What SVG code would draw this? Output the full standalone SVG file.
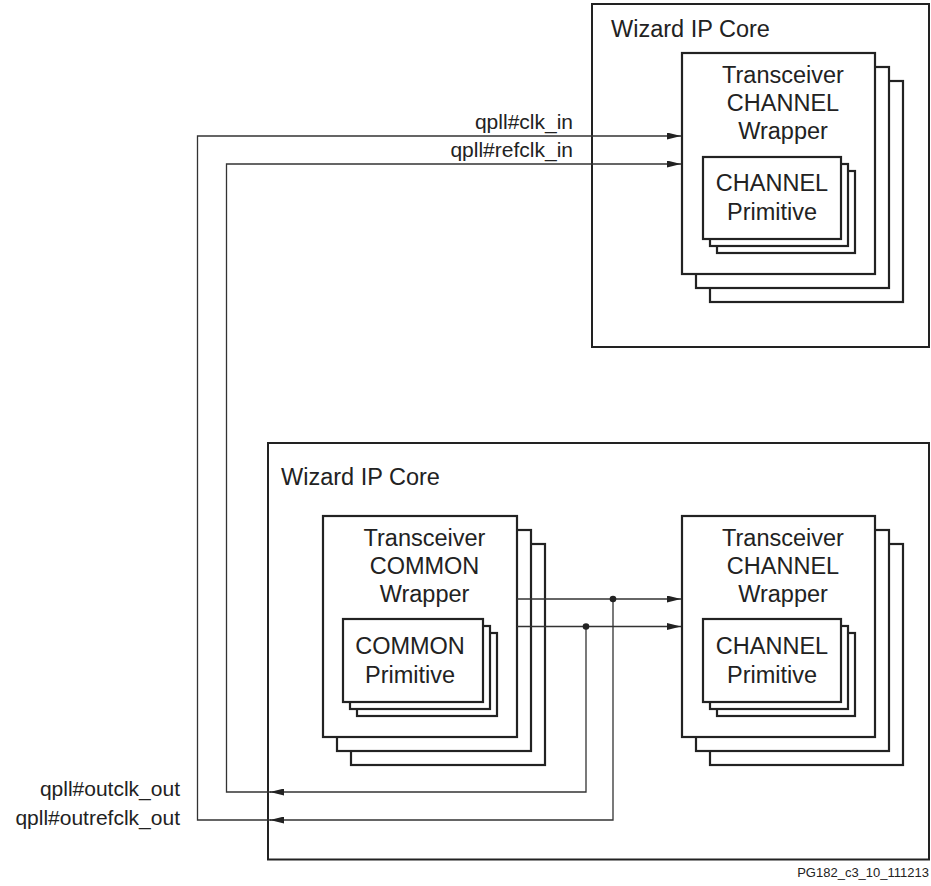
<svg xmlns="http://www.w3.org/2000/svg" width="931" height="886" viewBox="0 0 931 886">
<style>
.core{fill:#fff;stroke:#222;stroke-width:2}
.box{fill:#fff;stroke:#222;stroke-width:2.2}
.big{font-family:"Liberation Sans",Arial,sans-serif;font-size:23.5px;fill:#222;text-anchor:middle}
.lab{font-family:"Liberation Sans",Arial,sans-serif;font-size:21px;fill:#222;text-anchor:end}
.core-t{font-family:"Liberation Sans",Arial,sans-serif;font-size:23.5px;fill:#222}
.foot{font-family:"Liberation Sans",Arial,sans-serif;font-size:13px;fill:#222;text-anchor:end}
.wire{fill:none;stroke:#333;stroke-width:1.3}
</style>
<defs>
<marker id="arr" markerUnits="userSpaceOnUse" markerWidth="14" markerHeight="7" refX="14" refY="3.5" orient="auto">
<path d="M0,0 L14,3.5 L0,7 z" fill="#222"/>
</marker>
</defs>
<rect width="931" height="886" fill="#fff"/>

<g id="core-top">
<rect class="core" x="592" y="4" width="337" height="343"/>
<text class="core-t" x="611" y="37">Wizard IP Core</text>
</g>

<g id="core-bottom">
<rect class="core" x="268" y="443" width="661" height="416.5"/>
<text class="core-t" x="281" y="485">Wizard IP Core</text>
</g>

<g id="channel-wrapper-top">
<rect class="box" x="710" y="81" width="193" height="221"/>
<rect class="box" x="696" y="67" width="193" height="221"/>
<rect class="box" x="682" y="53" width="193" height="221"/>
<text class="big" x="783" y="83">Transceiver</text>
<text class="big" x="783" y="111">CHANNEL</text>
<text class="big" x="783" y="139">Wrapper</text>
</g>

<g id="channel-primitive-top">
<rect class="box" x="717" y="171" width="138" height="82"/>
<rect class="box" x="710" y="164" width="138" height="82"/>
<rect class="box" x="703" y="157" width="138" height="82"/>
<text class="big" x="772" y="191">CHANNEL</text>
<text class="big" x="772" y="220">Primitive</text>
</g>

<g id="common-wrapper">
<rect class="box" x="351" y="544" width="194" height="221"/>
<rect class="box" x="337" y="530" width="194" height="221"/>
<rect class="box" x="323" y="516" width="194" height="221"/>
<text class="big" x="424.5" y="546">Transceiver</text>
<text class="big" x="424.5" y="574">COMMON</text>
<text class="big" x="424.5" y="602">Wrapper</text>
</g>

<g id="common-primitive">
<rect class="box" x="357" y="633" width="140" height="83"/>
<rect class="box" x="350" y="626" width="140" height="83"/>
<rect class="box" x="343" y="619" width="140" height="83"/>
<text class="big" x="410" y="654">COMMON</text>
<text class="big" x="410" y="683">Primitive</text>
</g>

<g id="channel-wrapper-bottom">
<rect class="box" x="710" y="544" width="193" height="221"/>
<rect class="box" x="696" y="530" width="193" height="221"/>
<rect class="box" x="682" y="516" width="193" height="221"/>
<text class="big" x="783" y="546">Transceiver</text>
<text class="big" x="783" y="574">CHANNEL</text>
<text class="big" x="783" y="602">Wrapper</text>
</g>

<g id="channel-primitive-bottom">
<rect class="box" x="717" y="633" width="138" height="83"/>
<rect class="box" x="710" y="626" width="138" height="83"/>
<rect class="box" x="703" y="619" width="138" height="83"/>
<text class="big" x="772" y="654">CHANNEL</text>
<text class="big" x="772" y="683">Primitive</text>
</g>

<g id="connectors">
<path class="wire" d="M517,599 H681" marker-end="url(#arr)"/>
<path class="wire" d="M517,626.5 H681" marker-end="url(#arr)"/>
<path class="wire" d="M613,599 V820 H270" marker-end="url(#arr)"/>
<path class="wire" d="M271,820 H197.5 V136 H681" marker-end="url(#arr)"/>
<path class="wire" d="M586,626.5 V792 H270" marker-end="url(#arr)"/>
<path class="wire" d="M271,792 H226.5 V164 H681" marker-end="url(#arr)"/>
<circle cx="613" cy="599" r="3.3" fill="#222"/>
<circle cx="586" cy="626.5" r="3.3" fill="#222"/>
</g>

<g id="labels">
<text class="lab" x="573" y="129">qpll#clk_in</text>
<text class="lab" x="573" y="157">qpll#refclk_in</text>
<text class="lab" x="180" y="796">qpll#outclk_out</text>
<text class="lab" x="180" y="825">qpll#outrefclk_out</text>
<text class="foot" x="929" y="877">PG182_c3_10_111213</text>
</g>
</svg>
